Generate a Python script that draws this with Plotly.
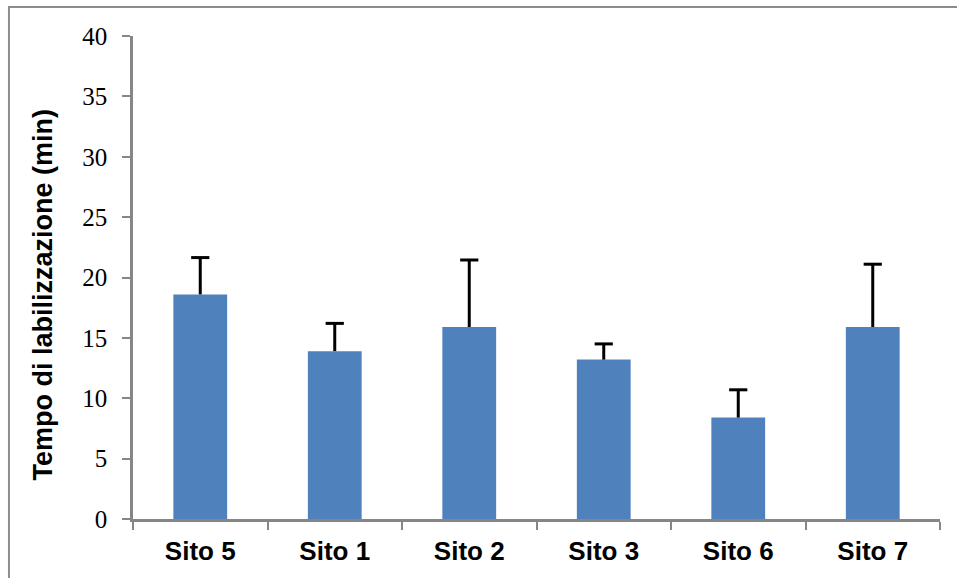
import plotly.graph_objects as go

categories = ["Sito 5", "Sito 1", "Sito 2", "Sito 3", "Sito 6", "Sito 7"]
means = [18.6, 13.9, 15.9, 13.2, 8.4, 15.9]
err_plus = [3.05, 2.3, 5.55, 1.3, 2.3, 5.2]
err_minus = [0, 0, 0, 0, 0, 0]
y_ticks = [0, 5, 10, 15, 20, 25, 30, 35, 40]
y_title = "Tempo di labilizzazione (min)"

bar_color = "#4F81BD"
axis_color = "#868686"

fig = go.Figure()
fig.add_trace(go.Bar(
    x=categories, y=means,
    marker=dict(color=bar_color, line=dict(width=0)),
    error_y=dict(type="data", symmetric=False, array=err_plus, arrayminus=err_minus,
                 color="black", thickness=3, width=0),
    showlegend=False, hoverinfo="x+y",
))
# error-bar caps (top only)
fig.add_trace(go.Scatter(
    x=categories, y=[m + e for m, e in zip(means, err_plus)],
    mode="markers",
    marker=dict(symbol="line-ew", size=13, color="black", line=dict(color="black", width=3)),
    showlegend=False, hoverinfo="skip",
))

fig.update_layout(
    width=957, height=578,
    margin=dict(l=133, r=17, t=36, b=59),
    paper_bgcolor="white", plot_bgcolor="white",
    bargap=0.6,
    xaxis=dict(
        type="category",
        showline=True, linecolor=axis_color, linewidth=2.5,
        ticks="outside", tickson="boundaries", ticklen=8, tickwidth=2, tickcolor=axis_color,
        tickfont=dict(family="Liberation Sans, Arial", size=26, color="black", weight="bold"),
        ticklabelstandoff=7,
        showgrid=False, zeroline=False,
    ),
    yaxis=dict(
        range=[0, 40], tickvals=y_ticks,
        showline=True, linecolor=axis_color, linewidth=2.5,
        ticks="outside", ticklen=8, tickwidth=2, tickcolor=axis_color,
        tickfont=dict(family="Liberation Serif, Times New Roman", size=25, color="black"),
        ticklabelstandoff=10,
        showgrid=False, zeroline=False,
    ),
    annotations=[dict(
        text=y_title, textangle=-90,
        xref="paper", yref="paper", x=-0.112, y=0.464,
        xanchor="center", yanchor="middle", showarrow=False,
        font=dict(family="Liberation Sans, Arial", size=27, color="black", weight="bold"),
    )],
    shapes=[dict(
        type="rect", xref="paper", yref="paper",
        x0=-0.1537, y0=-0.13, x1=1.03, y1=1.060,
        line=dict(color="#8c8c8c", width=2), fillcolor="rgba(0,0,0,0)", layer="below",
    )],
)

fig.write_html("out.html", config={"displayModeBar": False},
               post_script="document.body.style.margin='0';document.body.style.padding='0';")
